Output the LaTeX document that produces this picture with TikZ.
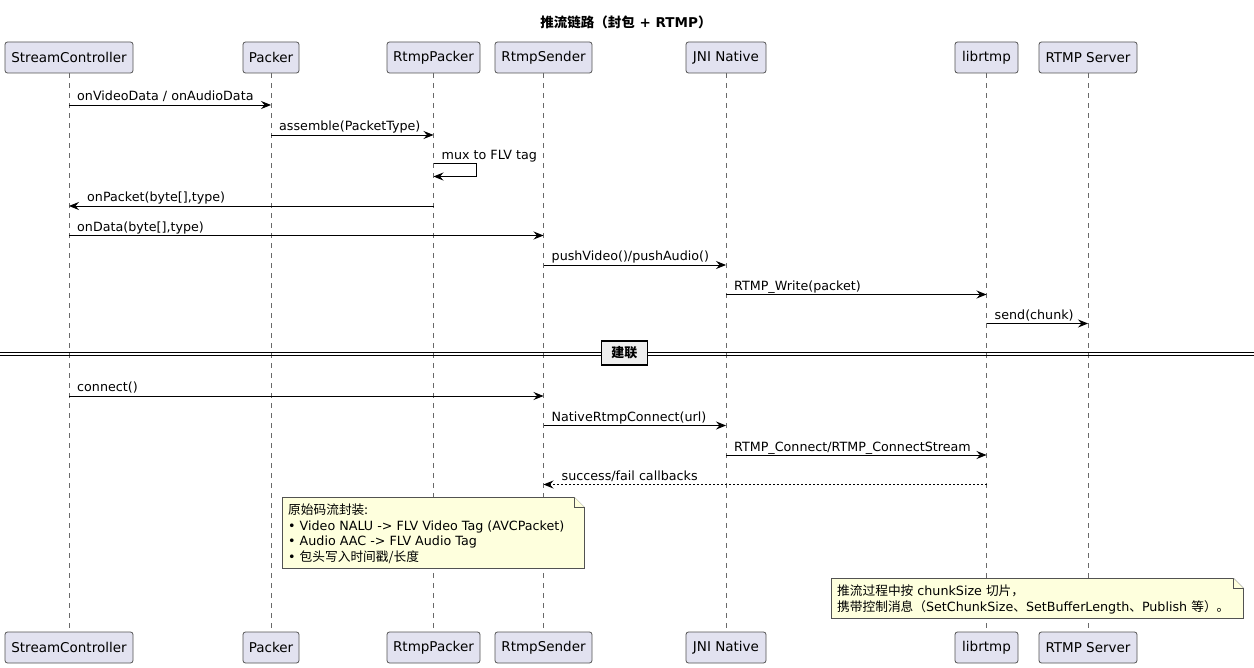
\documentclass[tikz,border=0pt]{standalone}
\usepackage{fontspec}
\setmainfont{DejaVu Sans}
\newfontfamily\cjk{Noto Sans CJK SC}
\usetikzlibrary{calc, positioning, arrows.meta}

\definecolor{partfill}{HTML}{E2E2F0}
\definecolor{notefill}{HTML}{FEFFDD}
\definecolor{divfill}{HTML}{EEEEEE}
\definecolor{edge}{HTML}{181818}

\begin{document}
\begin{tikzpicture}[x=1pt, y=-1pt,
  party/.style={draw=edge!75, fill=partfill, rounded corners=2.5pt, line width=0.8pt,
    minimum height=31pt, inner sep=0pt, font=\fontsize{13.5}{16}\selectfont},
  lifeline/.style={draw=edge!65, line width=0.7pt, dash pattern=on 5pt off 5pt},
  msg/.style={draw=black, line width=0.9pt, -{Stealth[length=10pt, width=8pt, inset=3.5pt]}},
  reply/.style={msg, dash pattern=on 2pt off 2pt},
  msglabel/.style={font=\fontsize{12.7}{15}\selectfont, inner sep=0pt, anchor=base west},
  notebox/.style={draw=edge!75, fill=notefill, line width=0.7pt},
  notetext/.style={font=\fontsize{12.7}{15.8}\selectfont, align=left, inner sep=0pt, anchor=north west}]

  \useasboundingbox (0,0) rectangle (1254,668);

  % Title
  \node[font=\bfseries\fontsize{13.5}{16}\selectfont] (title) at (626,22)
    {{\cjk 推流链路（封包} + RTMP{\cjk ）}};

  % Participants, top and bottom
  \foreach \n/\t/\x/\w in {sc/StreamController/69/128, pk/Packer/271/56,
      rpk/RtmpPacker/433.5/93, rs/RtmpSender/543.5/97, jni/JNI Native/726/80,
      lib/librtmp/986.5/63, srv/RTMP Server/1088/98} {
    \node[party, minimum width=\w pt] (\n-top) at (\x,57.5) {\t};
    \node[party, minimum width=\w pt] (\n-bot) at (\x,647.5) {\t};
  }

  % Lifelines
  \foreach \n in {sc,pk,rpk,rs,jni,lib,srv}
    \draw[lifeline] (\n-top) -- (\n-bot);

  % Messages to the right
  \foreach \a/\b/\y/\t [count=\i] in {sc/pk/105/{onVideoData / onAudioData},
      pk/rpk/135/{assemble(PacketType)}, sc/rs/235.5/{onData(byte[],type)},
      rs/jni/265/{pushVideo()/pushAudio()}, jni/lib/294.5/{RTMP\_Write(packet)},
      lib/srv/323.5/{send(chunk)}, sc/rs/396/{connect()},
      rs/jni/425.5/{NativeRtmpConnect(url)},
      jni/lib/455/{RTMP\_Connect/RTMP\_ConnectStream}} {
    \draw[msg] (\a-top |- 0,\y) -- (\b-top |- 0,\y);
    \node[msglabel, xshift=8pt, yshift=4pt] (m\i) at (\a-top |- 0,\y) {\t};
  }

  % Self message
  \draw[msg] (rpk-top |- 0,163.5) -- ++(43,0) -- ++(0,13) -- (rpk-top |- 0,176.5);
  \node[msglabel, xshift=8pt, yshift=4pt] (mux) at (rpk-top |- 0,163.5) {mux to FLV tag};

  % Messages to the left
  \draw[msg] (rpk-top |- 0,206) -- (sc-top |- 0,206);
  \node[msglabel, xshift=18pt, yshift=4pt] (back) at (sc-top |- 0,206) {onPacket(byte[],type)};
  \draw[reply] (lib-top |- 0,484.5) -- (rs-top |- 0,484.5);
  \node[msglabel, xshift=18pt, yshift=4pt] (cb) at (rs-top |- 0,484.5) {success/fail callbacks};

  % Divider
  \draw[line width=0.9pt] (0,352.5) -- (1254,352.5);
  \draw[line width=0.9pt] (0,355.5) -- (1254,355.5);
  \node[draw=black, fill=divfill, line width=1.3pt, minimum width=46pt, minimum height=24pt,
    inner sep=0pt, font=\bfseries\fontsize{13}{15}\selectfont] (div) at (624.3,353) {\cjk 建联};

  % Note 1
  \draw[notebox] (282.5,497.5) -- ++(292,0) -- ++(10,10) -- ++(0,61) -- ++(-302,0) -- cycle;
  \draw[notebox] (574.5,497.5) -- ++(0,10) -- ++(10,0);
  \node[notetext] (note1) at (288,503.5)
    {{\cjk 原始码流封装:}\\
     • Video NALU -> FLV Video Tag (AVCPacket)\\
     • Audio AAC -> FLV Audio Tag\\
     • {\cjk 包头写入时间戳/长度}};

  % Note 2
  \draw[notebox] (831.5,578.5) -- ++(402,0) -- ++(10,10) -- ++(0,30) -- ++(-412,0) -- cycle;
  \draw[notebox] (1233.5,578.5) -- ++(0,10) -- ++(10,0);
  \node[notetext] (note2) at (837,584.5)
    {{\cjk 推流过程中按} chunkSize {\cjk 切片，}\\
     {\cjk 携带控制消息（}SetChunkSize{\cjk 、}SetBufferLength{\cjk 、}Publish {\cjk 等）。}};
\end{tikzpicture}
\end{document}
